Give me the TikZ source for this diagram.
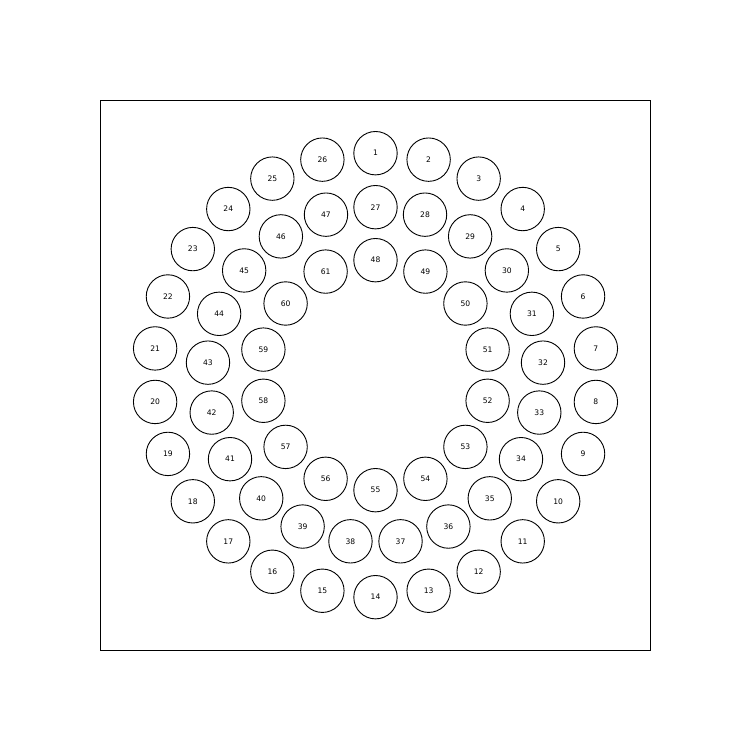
\documentclass[tikz,border=0pt]{standalone}
\usepackage{fontspec}
\setmainfont{DejaVu Sans}
\usetikzlibrary{positioning}
\tikzset{
  ringnode/.style={circle, draw=black, line width=0.9pt, minimum size=43.4pt,
    inner sep=0pt, font=\fontsize{7.6}{9}\selectfont},
}

\begin{document}
\begin{tikzpicture}[x=1pt, y=1pt]
        \useasboundingbox (0,0) rectangle (751,751);
        % Frame
        \draw[line width=0.9pt] (100.5,100.5) rectangle (650.5,650.5);
        \coordinate (center) at (375.5,375.8);

        % Outer ring: 26 circles
        \foreach \i in {1,...,26} {
          \pgfmathsetmacro{\ang}{90-(\i-1)*360/26}
          \node[ringnode] (c\i) at ([shift={(\ang:222pt)}]center) {\i};
        }
        % Middle ring: 21 circles
        \foreach \i in {27,...,47} {
          \pgfmathsetmacro{\ang}{90-(\i-27)*360/21}
          \node[ringnode] (c\i) at ([shift={(\ang:168pt)}]center) {\i};
        }
        % Inner ring: 14 circles
        \foreach \i in {48,...,61} {
          \pgfmathsetmacro{\ang}{90-(\i-48)*360/14}
          \node[ringnode] (c\i) at ([shift={(\ang:115pt)}]center) {\i};
        }
      \end{tikzpicture}
\end{document}
